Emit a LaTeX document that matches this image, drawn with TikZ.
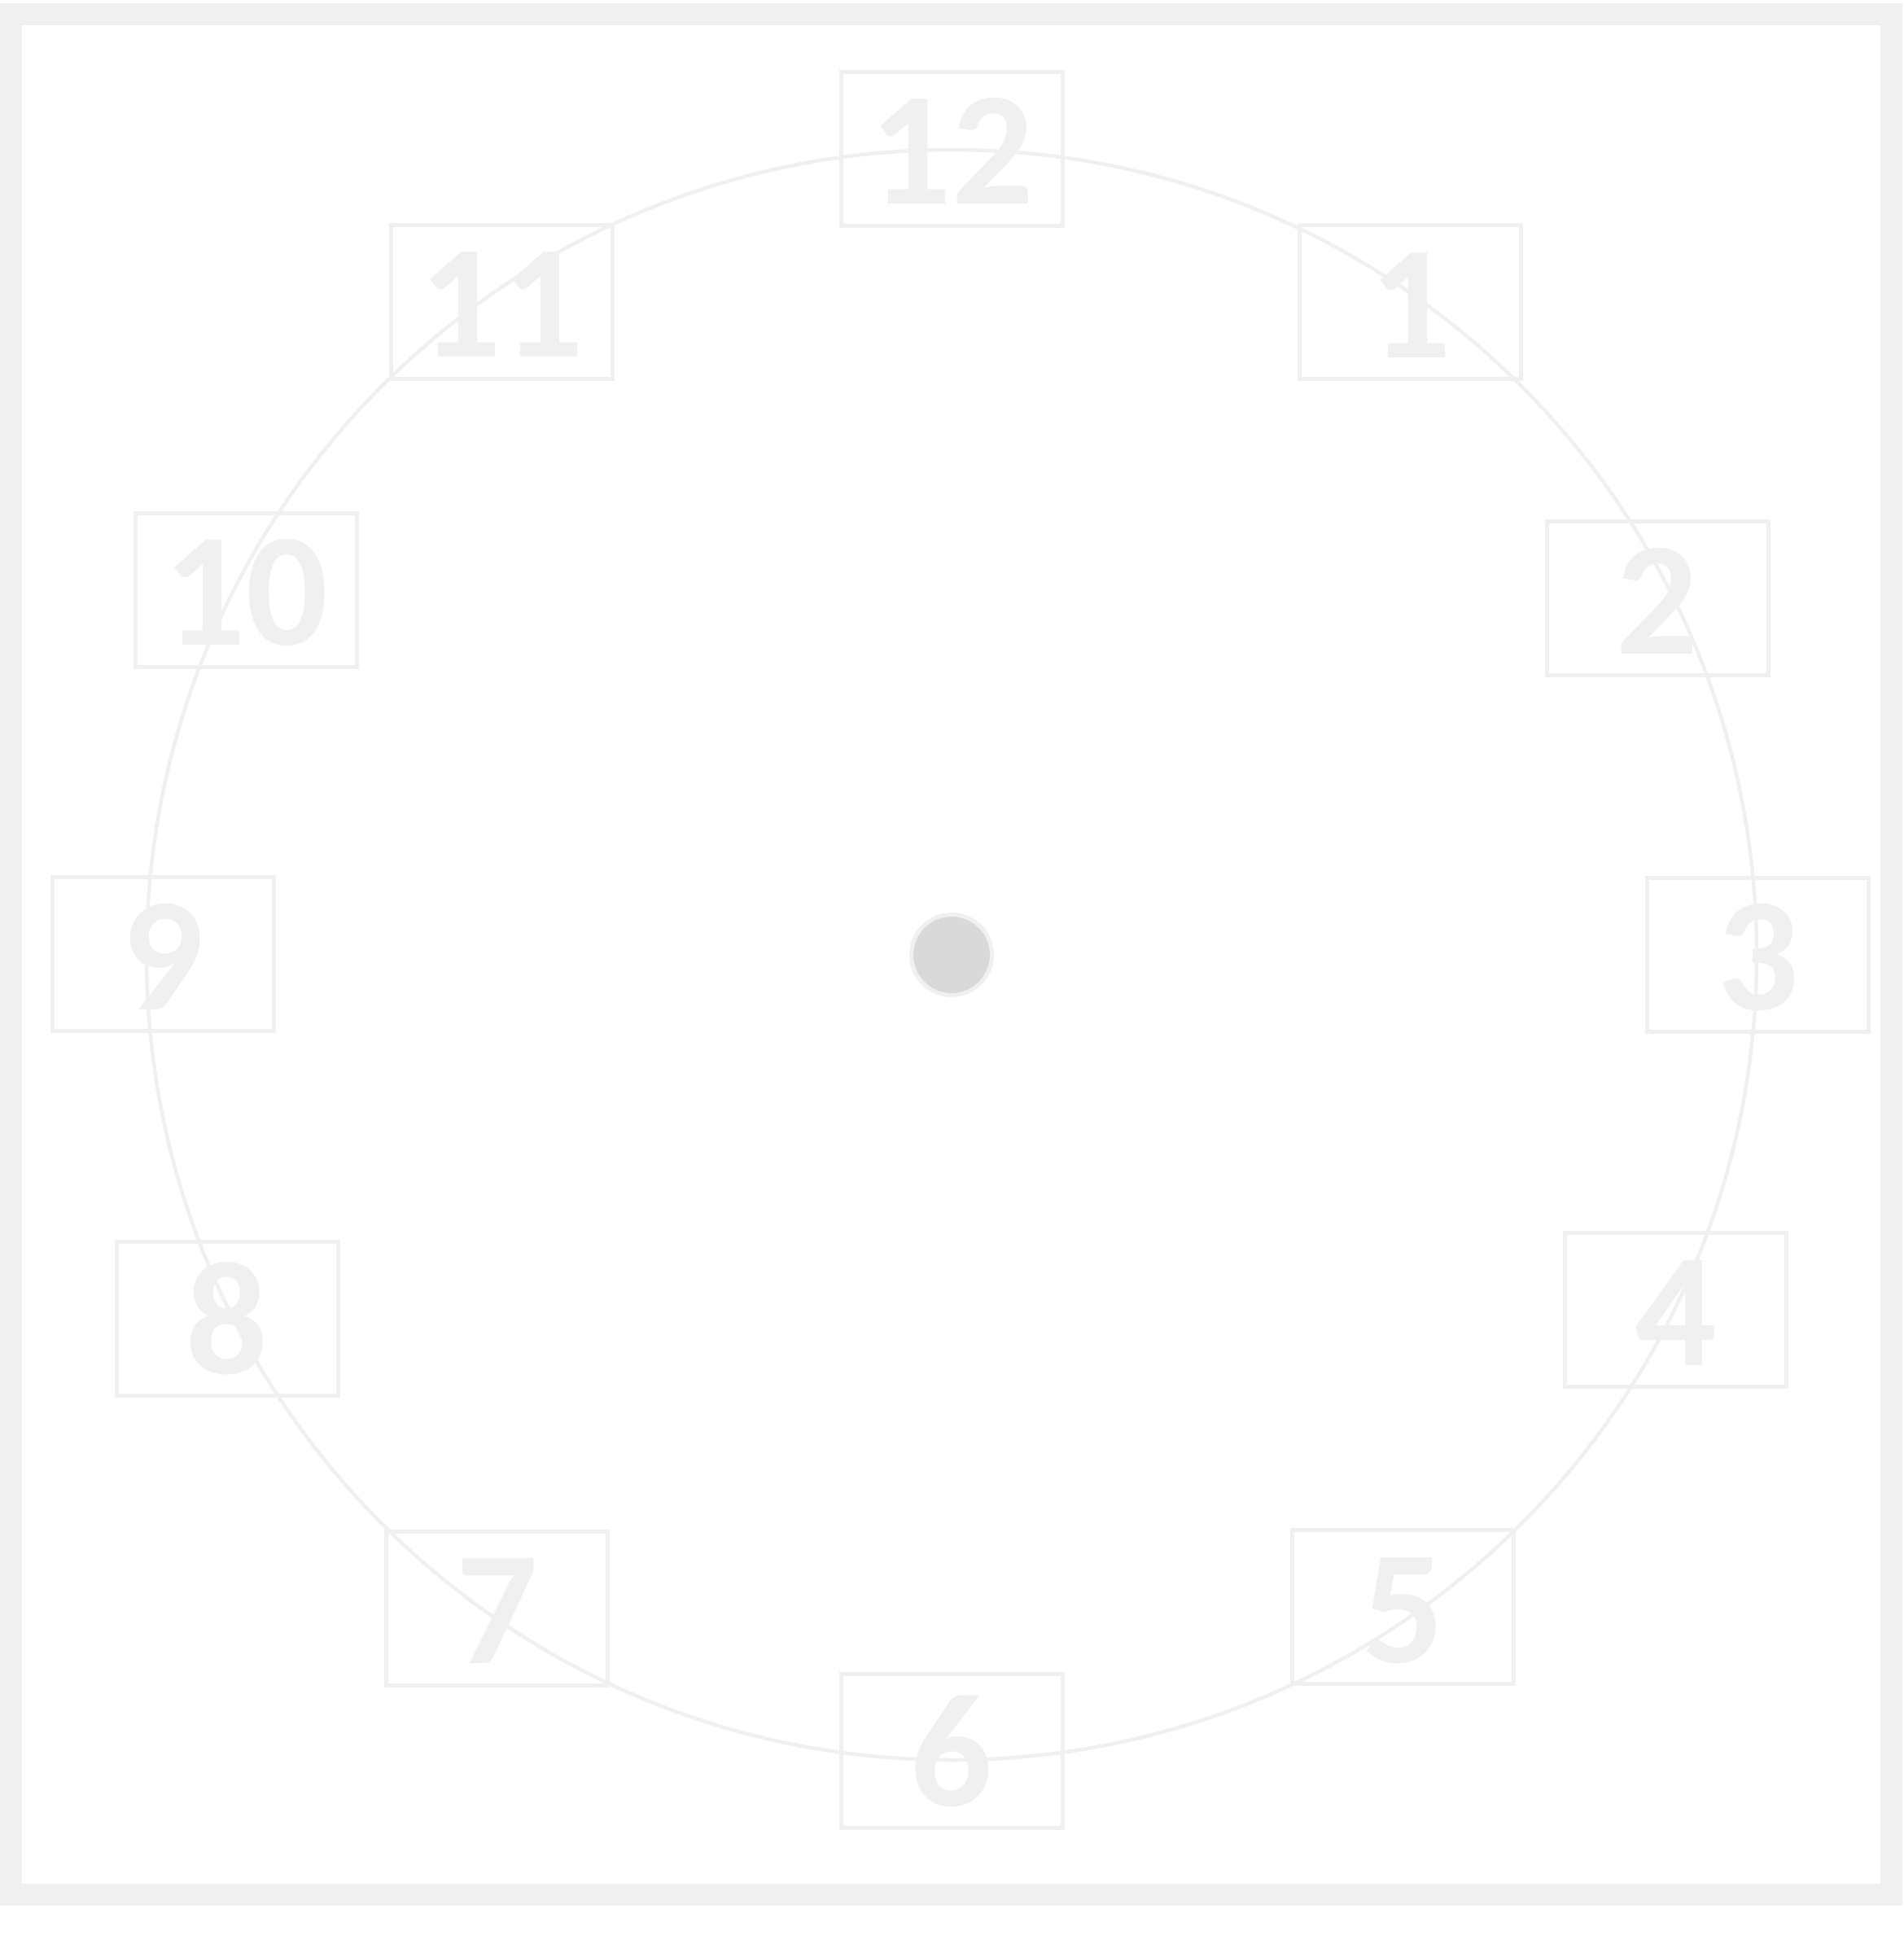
\documentclass[tikz,border=0pt]{standalone}
\usepackage{fontspec}
\setmainfont{Carlito}
\usepackage{tikz}
\definecolor{faint}{HTML}{F0F0F0}
\definecolor{pin}{HTML}{D9D9D9}

\begin{document}
\begin{tikzpicture}[
        hour/.style={draw=faint,line width=0.05cm,inner sep=0pt,
          minimum width=2.72cm,minimum height=1.89cm,text=faint,
          font=\fontsize{56.5}{60}\selectfont\bfseries,
          text height=38.7pt,text depth=0pt},
        dial/.style={draw=faint,line width=0.045cm}
      ]
      \useasboundingbox (0,0) rectangle (23.38,-23.93);
      \draw[faint,line width=0.27cm] (0.135,-0.175) rectangle (23.235,-23.275);
      \node (12) [hour] at (11.695,-1.825) {12};
      \node (1) [hour] at (17.325,-3.713) {1};
      \node (2) [hour] at (20.36,-7.35) {2};
      \node (3) [hour] at (21.595,-11.725) {3};
      \node (4) [hour] at (20.583,-16.09) {4};
      \node (5) [hour] at (17.235,-19.74) {5};
      \node (6) [hour] at (11.693,-21.508) {6};
      \node (7) [hour] at (6.105,-19.758) {7};
      \node (8) [hour] at (2.79,-16.195) {8};
      \node (9) [hour] at (2.0,-11.72) {9};
      \node (10) [hour] at (3.023,-7.248) {10};
      \node (11) [hour] at (6.16,-3.705) {11};
      \coordinate (c) at (11.69,-11.73);
      \draw[dial] (c) circle [radius=9.89];
      \filldraw[fill=pin,draw=faint,line width=0.05cm] (c) circle [radius=0.495];
    \end{tikzpicture}
\end{document}
